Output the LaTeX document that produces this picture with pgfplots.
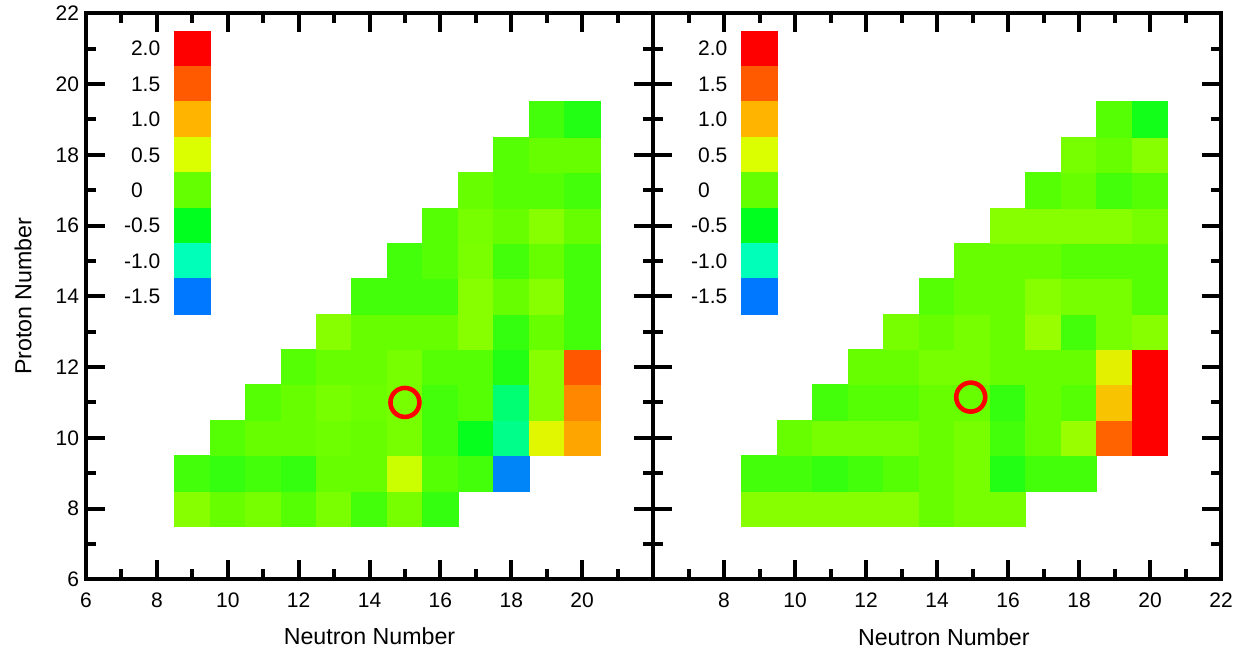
\documentclass[border=0pt]{standalone}
\usepackage{pgfplots}
\pgfplotsset{compat=1.18}
\usepackage{fontspec}
\setmainfont{Liberation Sans}

\pgfplotsset{
  nuc/.style={
    scale only axis, width=283.5pt, height=283pt,
    xmin=6, xmax=22, ymin=6, ymax=22,
    xtick={6,8,...,22}, ytick={6,8,...,22},
    minor x tick num=1, minor y tick num=1,
    major tick length=9.5pt, minor tick length=5pt,
    tick align=inside,
    tick style={black, line width=2pt},
    axis line style={black, line width=2pt},
    /pgf/number format/assume math mode=true,
    tick label style={font=\fontsize{10.5}{12}\selectfont},
    xticklabel style={yshift=-3.2pt},
    label style={font=\fontsize{11.6}{14}\selectfont},
    colormap={nucmap}{rgb255=(0,120,255) rgb255=(0,255,185) rgb255=(0,255,30) rgb255=(100,255,0) rgb255=(220,255,0) rgb255=(255,180,0) rgb255=(255,90,0) rgb255=(255,0,0)},
    point meta min=-1.5, point meta max=2.0,
    axis on top,
  },
  nuccells/.style={scatter, only marks, mark=square*, mark size=8.86pt,
    point meta=explicit, line width=0.3pt,
    scatter/use mapped color={draw=mapped color, fill=mapped color}},
  nucring/.style={only marks, mark=o, mark size=7.25pt,
    mark options={draw=red, line width=2.3pt}},
}

\newcommand{\cbarlabels}{%
  \node[anchor=east, inner sep=0pt, xshift=-7pt, font=\fontsize{10.5}{12}\selectfont] at (axis cs:8.5,21) {2.0};
  \node[anchor=east, inner sep=0pt, xshift=-7pt, font=\fontsize{10.5}{12}\selectfont] at (axis cs:8.5,20) {1.5};
  \node[anchor=east, inner sep=0pt, xshift=-7pt, font=\fontsize{10.5}{12}\selectfont] at (axis cs:8.5,19) {1.0};
  \node[anchor=east, inner sep=0pt, xshift=-7pt, font=\fontsize{10.5}{12}\selectfont] at (axis cs:8.5,18) {0.5};
  \node[anchor=east, inner sep=0pt, xshift=-7pt, font=\fontsize{10.5}{12}\selectfont] at (axis cs:8.5,17) {0\phantom{.0}};
  \node[anchor=east, inner sep=0pt, xshift=-7pt, font=\fontsize{10.5}{12}\selectfont] at (axis cs:8.5,16) {-0.5};
  \node[anchor=east, inner sep=0pt, xshift=-7pt, font=\fontsize{10.5}{12}\selectfont] at (axis cs:8.5,15) {-1.0};
  \node[anchor=east, inner sep=0pt, xshift=-7pt, font=\fontsize{10.5}{12}\selectfont] at (axis cs:8.5,14) {-1.5};
}

\newcommand{\cbarplot}{%
  \addplot[nuccells] coordinates {
    (9,21) [2.0] (9,20) [1.5] (9,19) [1.0] (9,18) [0.5]
    (9,17) [0.0] (9,16) [-0.5] (9,15) [-1.0] (9,14) [-1.5]
  };
}

\begin{document}
\begin{tikzpicture}
\path[use as bounding box] (0,0) rectangle (625.5pt,325pt);

\begin{axis}[nuc,
  at={(43pt,35.35pt)}, anchor=south west,
  xticklabels={6,8,10,12,14,16,18,20,{}},
  xlabel={Neutron Number}, ylabel={Proton Number},
  xlabel style={at={(axis description cs:0.5,-0.1145)}, anchor=base},
  ylabel style={at={(axis description cs:-0.1111,0.5)}, anchor=center},
]
\addplot[nuccells] coordinates {
  (9,8) [0.15] (10,8) [0.01] (11,8) [0.08] (12,8) [-0.075] (13,8) [0.09] (14,8) [-0.16] (15,8) [0.08] (16,8) [-0.245]
  (9,9) [-0.16] (10,9) [-0.245] (11,9) [-0.16] (12,9) [-0.245] (13,9) [0.01] (14,9) [0.01] (15,9) [0.43] (16,9) [-0.075] (17,9) [-0.16] (18,9) [-1.45]
  (10,10) [-0.075] (11,10) [0.01] (12,10) [0.01] (13,10) [0.04] (14,10) [0.01] (15,10) [0.08] (16,10) [-0.16] (17,10) [-0.47] (18,10) [-0.85] (19,10) [0.55] (20,10) [1.08]
  (11,11) [-0.075] (12,11) [0.01] (13,11) [0.08] (14,11) [0.03] (15,11) [0.08] (16,11) [-0.16] (17,11) [-0.075] (18,11) [-0.77] (19,11) [0.15] (20,11) [1.25]
  (12,12) [-0.075] (13,12) [0.01] (14,12) [0.01] (15,12) [0.08] (16,12) [-0.075] (17,12) [-0.075] (18,12) [-0.33] (19,12) [0.15] (20,12) [1.52]
  (13,13) [0.15] (14,13) [0.01] (15,13) [0.01] (16,13) [0.01] (17,13) [0.15] (18,13) [-0.245] (19,13) [0.01] (20,13) [-0.16]
  (14,14) [-0.16] (15,14) [-0.16] (16,14) [-0.16] (17,14) [0.15] (18,14) [0.01] (19,14) [0.15] (20,14) [-0.16]
  (15,15) [-0.16] (16,15) [-0.075] (17,15) [0.09] (18,15) [-0.16] (19,15) [0.01] (20,15) [-0.16]
  (16,16) [-0.075] (17,16) [0.08] (18,16) [0.01] (19,16) [0.15] (20,16) [0.01]
  (17,17) [0.01] (18,17) [-0.075] (19,17) [-0.075] (20,17) [-0.16]
  (18,18) [-0.075] (19,18) [0.01] (20,18) [0.01]
  (19,19) [-0.16] (20,19) [-0.33]
};
\cbarplot
\addplot[nucring] coordinates {(15,11)};
\cbarlabels
\end{axis}

\begin{axis}[nuc,
  at={(326.5pt,35.35pt)}, anchor=south west, width=284pt,
  xticklabels={{},8,10,12,14,16,18,20,22},
  yticklabels={},
  xlabel={Neutron Number},
  xlabel style={at={(axis description cs:0.512,-0.1175)}, anchor=base},
]
\addplot[nuccells] coordinates {
  (9,8) [0.15] (10,8) [0.15] (11,8) [0.15] (12,8) [0.15] (13,8) [0.15] (14,8) [0.01] (15,8) [0.08] (16,8) [0.08]
  (9,9) [-0.16] (10,9) [-0.16] (11,9) [-0.245] (12,9) [-0.16] (13,9) [-0.075] (14,9) [0.01] (15,9) [0.08] (16,9) [-0.33] (17,9) [-0.16] (18,9) [-0.16]
  (10,10) [0.01] (11,10) [0.08] (12,10) [0.08] (13,10) [0.08] (14,10) [0.01] (15,10) [0.08] (16,10) [-0.16] (17,10) [0.01] (18,10) [0.22] (19,10) [1.45] (20,10) [2.0]
  (11,11) [-0.16] (12,11) [-0.075] (13,11) [-0.075] (14,11) [0.01] (15,11) [0.01] (16,11) [-0.245] (17,11) [0.01] (18,11) [-0.075] (19,11) [0.9] (20,11) [2.0]
  (12,12) [0.01] (13,12) [0.01] (14,12) [0.08] (15,12) [0.08] (16,12) [0.01] (17,12) [0.01] (18,12) [0.01] (19,12) [0.6] (20,12) [2.0]
  (13,13) [0.08] (14,13) [0.01] (15,13) [0.08] (16,13) [0.01] (17,13) [0.22] (18,13) [-0.16] (19,13) [0.08] (20,13) [0.15]
  (14,14) [-0.075] (15,14) [0.01] (16,14) [0.01] (17,14) [0.15] (18,14) [0.08] (19,14) [0.08] (20,14) [-0.075]
  (15,15) [0.01] (16,15) [0.01] (17,15) [0.01] (18,15) [-0.075] (19,15) [-0.075] (20,15) [-0.075]
  (16,16) [0.15] (17,16) [0.15] (18,16) [0.15] (19,16) [0.15] (20,16) [0.08]
  (17,17) [-0.075] (18,17) [0.01] (19,17) [-0.16] (20,17) [-0.075]
  (18,18) [0.08] (19,18) [0.01] (20,18) [0.15]
  (19,19) [-0.075] (20,19) [-0.415]
};
\cbarplot
\addplot[nucring] coordinates {(14.95,11.15)};
\cbarlabels
\end{axis}
\end{tikzpicture}
\end{document}
